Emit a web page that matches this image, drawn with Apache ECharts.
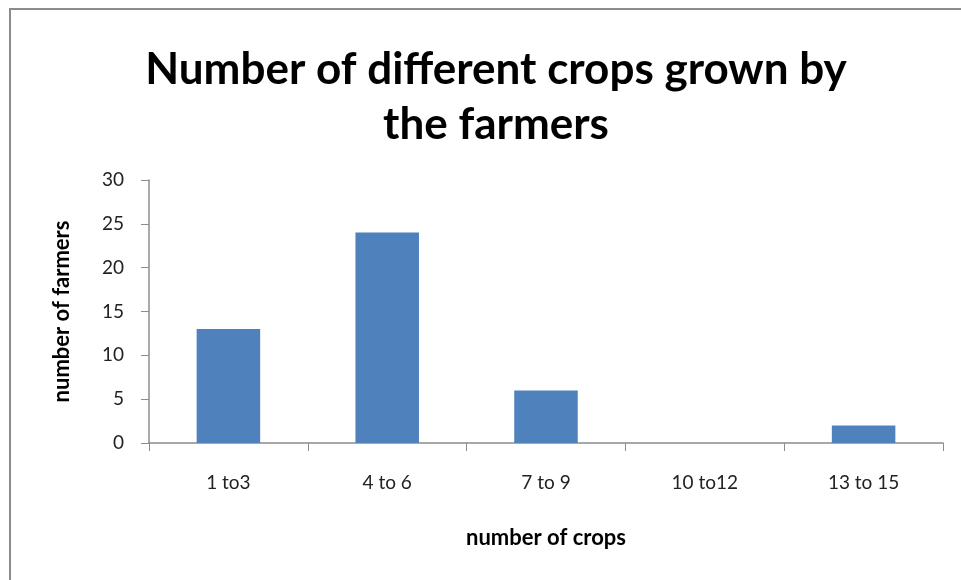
<!DOCTYPE html>
<html>
<head>
<meta charset="utf-8">
<script src="https://cdn.jsdelivr.net/npm/echarts@6/dist/echarts.min.js"></script>
<style>
  html, body { margin: 0; padding: 0; background: #fff; }
  #chart { width: 961px; height: 580px; }
</style>
</head>
<body>
<div id="chart"></div>
<script>
// chart data
const categories = ['1 to3', '4 to 6', '7 to 9', '10 to12', '13 to 15'];
const farmers = [13, 24, 6, 0, 2];
const yTicks = [0, 5, 10, 15, 20, 25, 30];

const font = 'Lato, "Open Sans", sans-serif';
const chart = echarts.init(document.getElementById('chart'));

chart.setOption({
  animation: false,
  backgroundColor: '#fff',
  title: {
    text: 'Number of different crops grown by\nthe farmers',
    left: 491,
    textAlign: 'center',
    top: 37,
    textStyle: {
      fontFamily: font,
      fontWeight: 'bold',
      fontSize: 44,
      lineHeight: 55,
      color: '#000'
    }
  },
  graphic: [{
    type: 'rect',
    shape: { x: 10, y: 9, width: 1000, height: 620 },
    style: { fill: 'none', stroke: '#8c8c8c', lineWidth: 2 },
    silent: true
  }],
  grid: { left: 149, right: 18, top: 180, bottom: 137 },
  xAxis: {
    type: 'category',
    data: categories,
    name: 'number of crops',
    nameLocation: 'middle',
    nameGap: 84,
    nameTextStyle: { fontFamily: font, fontWeight: 'bold', fontSize: 22, color: '#000' },
    axisLine: { lineStyle: { color: '#8c8c8c', width: 1.5 } },
    axisTick: { show: true, length: 8, alignWithLabel: false, lineStyle: { color: '#8c8c8c' } },
    axisLabel: { margin: 30, fontFamily: font, fontSize: 19, color: '#222' }
  },
  yAxis: {
    type: 'value',
    min: yTicks[0],
    max: yTicks[yTicks.length - 1],
    interval: 5,
    name: 'number of farmers',
    nameLocation: 'middle',
    nameGap: 76,
    nameTextStyle: { fontFamily: font, fontWeight: 'bold', fontSize: 22, color: '#000' },
    splitLine: { show: false },
    axisLine: { show: true, lineStyle: { color: '#8c8c8c', width: 1.5 } },
    axisTick: { show: true, length: 8, lineStyle: { color: '#8c8c8c' } },
    axisLabel: { margin: 25, fontFamily: font, fontSize: 19, color: '#222' }
  },
  series: [{
    type: 'bar',
    data: farmers,
    barWidth: '40%',
    itemStyle: { color: '#4F81BD' }
  }]
});
</script>
</body>
</html>
